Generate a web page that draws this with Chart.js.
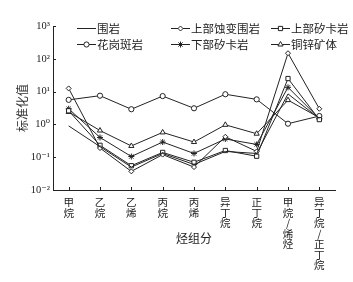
<!DOCTYPE html>
<html><head><meta charset="utf-8">
<script src="https://cdn.jsdelivr.net/npm/chart.js@4/dist/chart.umd.min.js"></script>
<style>html,body{margin:0;padding:0;background:#fff}</style>
</head><body>
<canvas id="c" width="353" height="282"></canvas>
<script>
const categories = ['甲烷','乙烷','乙烯','丙烷','丙烯','异丁烷','正丁烷','甲烷/烯烃','异丁烷/正丁烷'];
const seriesNames = ['围岩','上部蚀变围岩','上部矽卡岩','花岗斑岩','下部矽卡岩','铜锌矿体'];
const weiyan         = [0.9, 0.21, 0.05, 0.13, 0.06, 0.15, 0.13, 8.5, 1.5];
const shangbuShibian = [12.5, 0.19, 0.037, 0.12, 0.05, 0.42, 0.15, 148, 3.0];
const shangbuXika    = [2.6, 0.23, 0.055, 0.14, 0.07, 0.16, 0.107, 25, 1.4];
const huagangBanyan  = [5.6, 7.5, 2.9, 7.3, 3.1, 8.3, 5.8, 1.05, 1.8];
const xiabuXika      = [3.0, 0.4, 0.105, 0.29, 0.13, 0.36, 0.245, 13.5, 1.5];
const tongxinKuangti = [2.4, 0.65, 0.22, 0.57, 0.29, 0.97, 0.52, 5.5, 1.6];
const yTickValues = [0.01, 0.1, 1, 10, 100, 1000];
const yTickLabels = ['10⁻²','10⁻¹','10⁰','10¹','10²','10³'];
const yTitle = '标准化值';
const xTitle = '烃组分';

const INK = '#222';
const seriesData = [weiyan, shangbuShibian, shangbuXika, huagangBanyan, xiabuXika, tongxinKuangti];
const styles = [
  {pointStyle: false, r: 0},
  {pointStyle: 'rectRot', r: 2.5},
  {pointStyle: 'rect', r: 3},
  {pointStyle: 'circle', r: 2.6},
  {pointStyle: 'star', r: 3},
  {pointStyle: 'triangle', r: 3}
];
const datasets = seriesData.map((d, i) => ({
  label: seriesNames[i],
  data: d,
  borderColor: INK,
  borderWidth: 1,
  backgroundColor: '#fff',
  pointStyle: styles[i].pointStyle,
  pointRadius: styles[i].r,
  pointBorderWidth: 1,
  pointBorderColor: INK,
  pointBackgroundColor: i === 4 ? INK : '#fff',
  tension: 0,
  fill: false
}));

const cjk = "'Noto Sans CJK SC', 'Noto Sans', sans-serif";

const decor = {
  id: 'decor',
  afterDraw(chart) {
    const ctx = chart.ctx, a = chart.chartArea;
    const xs = chart.scales.x, ys = chart.scales.y;
    ctx.save();
    ctx.strokeStyle = INK; ctx.lineWidth = 1;
    yTickValues.forEach(v => {
      const py = Math.round(ys.getPixelForValue(v)) + 0.5;
      ctx.beginPath(); ctx.moveTo(a.left, py); ctx.lineTo(a.left + 3, py); ctx.stroke();
    });
    categories.forEach((c, i) => {
      const px = Math.round(xs.getPixelForValue(i)) + 0.5;
      ctx.beginPath(); ctx.moveTo(px, a.bottom); ctx.lineTo(px, a.bottom - 3); ctx.stroke();
    });
    ctx.fillStyle = INK;
    ctx.font = "12px " + cjk;
    ctx.textAlign = 'center'; ctx.textBaseline = 'middle';
    ctx.fillText(xTitle, (a.left + a.right) / 2, 238);
    const cols = [77, 171, 271], rows = [28, 44];
    ctx.font = "11.5px " + cjk;
    ctx.textAlign = 'left';
    seriesNames.forEach((name, i) => {
      const x0 = cols[i % 3], y0 = rows[Math.floor(i / 3)];
      ctx.strokeStyle = INK; ctx.lineWidth = 1;
      ctx.beginPath(); ctx.moveTo(x0, y0 + 0.5); ctx.lineTo(x0 + 19, y0 + 0.5); ctx.stroke();
      if (styles[i].pointStyle && Chart.helpers && Chart.helpers.drawPoint) {
        ctx.fillStyle = i === 4 ? INK : '#fff';
        Chart.helpers.drawPoint(ctx, {pointStyle: styles[i].pointStyle, radius: styles[i].r, borderWidth: 1, rotation: 0}, x0 + 9.5, y0 + 0.5);
      }
      ctx.fillStyle = INK;
      ctx.fillText(name, x0 + 20, y0 + 0.5);
    });
    ctx.restore();
  }
};

new Chart(document.getElementById('c'), {
  type: 'line',
  data: { labels: categories.map(c => Array.from(c)), datasets },
  options: {
    responsive: false,
    animation: false,
    layout: { padding: { left: 11, top: 26, right: 18, bottom: 0 } },
    plugins: { legend: { display: false }, tooltip: { enabled: false } },
    scales: {
      x: {
        type: 'category',
        offset: true,
        grid: { display: false, drawTicks: false },
        border: { display: true, color: INK, width: 1 },
        ticks: { autoSkip: false, maxRotation: 0, minRotation: 0, padding: 7, color: INK,
                 font: { family: cjk, size: 10.5, lineHeight: 1.0 } },
        afterFit(s) { s.height = 92; }
      },
      y: {
        type: 'logarithmic',
        min: 0.01, max: 1000,
        afterBuildTicks(s) { s.ticks = yTickValues.map(v => ({ value: v })); },
        grid: { display: false, drawTicks: false },
        border: { display: true, color: INK, width: 1 },
        ticks: { padding: 3, color: INK, autoSkip: false,
                 font: { family: "'Liberation Serif', 'DejaVu Serif', serif", size: 10.5 },
                 callback: (v) => { const k = yTickValues.indexOf(v); return k >= 0 ? yTickLabels[k] : ''; } },
        title: { display: true, text: yTitle, color: '#333', font: { family: cjk, size: 12 }, padding: { top: 4, bottom: 0 } },
        afterFit(s) { s.width = 42; }
      }
    }
  },
  plugins: [decor]
});
</script>
</body></html>
